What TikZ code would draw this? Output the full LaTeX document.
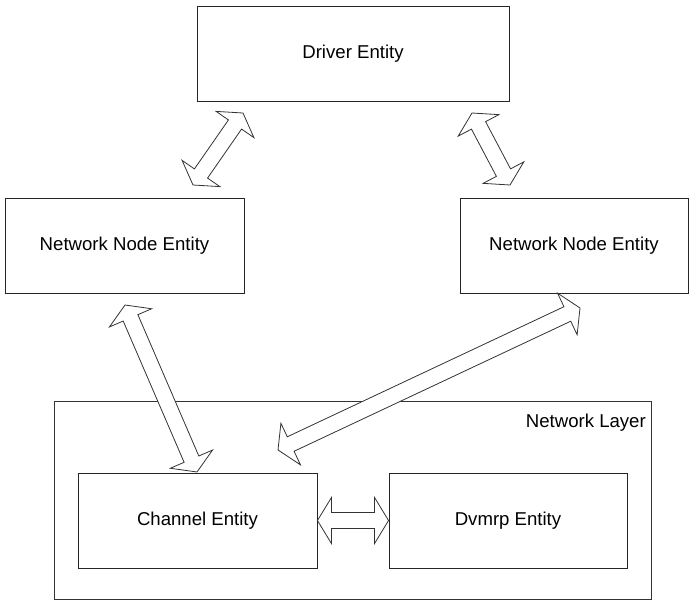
\documentclass[tikz,border=0pt]{standalone}
\usepackage{fontspec}
\setmainfont{Liberation Sans}
\usetikzlibrary{calc}
\tikzset{
  entity/.style={draw=black!85, line width=0.9pt, fill=white, rectangle, inner sep=0pt,
    font=\fontsize{18.6}{22}\selectfont},
  layerbox/.style={draw=black!80, line width=0.8pt, rectangle, inner sep=0pt},
  hollow/.style={draw=black!80, line width=0.8pt, fill=white, line join=miter},
  lbl/.style={inner sep=0pt, font=\fontsize{18.6}{22}\selectfont}
}
\newcommand{\hollowdbl}[2]{%
  \path let \p1=($(#2)-(#1)$) in \pgfextra{%
    \pgfmathsetmacro\hdangtmp{atan2(\y1,\x1)}%
    \pgfmathsetmacro\hdlentmp{veclen(\x1,\y1)}%
    \global\let\hdang\hdangtmp \global\let\hdlen\hdlentmp};
  \begin{scope}[shift={(#1)}, rotate=\hdang]
    \draw[hollow] (0,0) -- (14,23) -- (14,8) -- ({\hdlen-14},8) -- ({\hdlen-14},23)
      -- (\hdlen,0) -- ({\hdlen-14},-23) -- ({\hdlen-14},-8) -- (14,-8) -- (14,-23) -- cycle;
  \end{scope}
}
\begin{document}
\begin{tikzpicture}[x=1pt, y=-1pt]
\useasboundingbox (0,0) rectangle (692,602);
% boxes
\node[layerbox, minimum width=597, minimum height=198] (layer) at (353,500) {};
\node[lbl, anchor=east] (layerlbl) at (646,423) {Network Layer};
\node[entity, minimum width=312, minimum height=95] (driver) at (353,53.5) {Driver Entity};
\node[entity, minimum width=239, minimum height=95] (nnl) at (124.5,245.5) {Network Node Entity};
\node[entity, minimum width=228, minimum height=95] (nnr) at (574,245.5) {Network Node Entity};
\node[entity, minimum width=239, minimum height=95] (channel) at (197.5,520.5) {Channel Entity};
\node[entity, minimum width=238, minimum height=95] (dvmrp) at (508,520.5) {Dvmrp Entity};
% arrow end points
\coordinate (a1s) at (193,185);
\coordinate (a1e) at (243,113);
\coordinate (a2s) at (472,113);
\coordinate (a2e) at (510,185);
\coordinate (a3s) at (125,305);
\coordinate (a3e) at (197,472);
\coordinate (a4s) at (580,308);
\coordinate (a4e) at (278,450);
% arrows
\hollowdbl{a1s}{a1e}
\hollowdbl{a2s}{a2e}
\hollowdbl{a3s}{a3e}
\hollowdbl{a4s}{a4e}
\hollowdbl{channel.east}{dvmrp.west}
\end{tikzpicture}
\end{document}
